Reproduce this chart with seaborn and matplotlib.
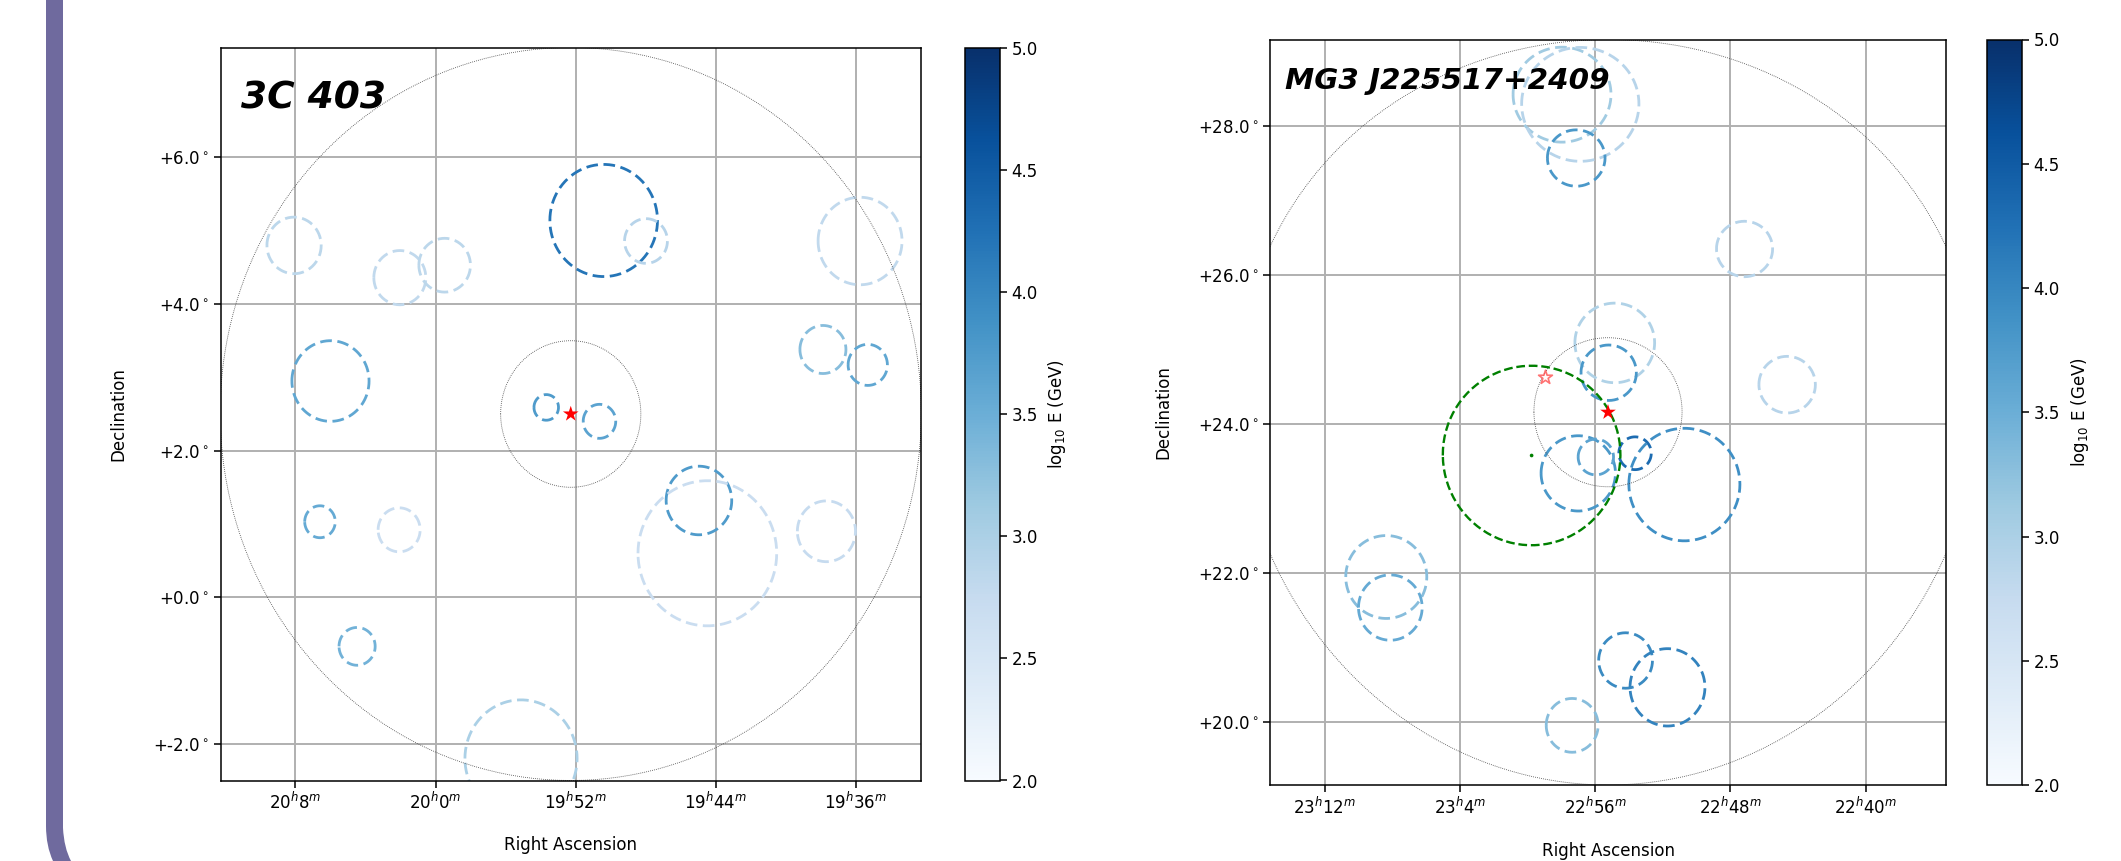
import numpy as np
import matplotlib
matplotlib.use("Agg")
import matplotlib.pyplot as plt
import seaborn as sns
from matplotlib.cm import ScalarMappable
from matplotlib.colors import Normalize
from matplotlib.path import Path
from matplotlib.patches import PathPatch

W, H = 2121, 861

# ---- left panel data: 3C 403
left_name = "3C 403"
left_center = (298.07, 2.5)
left_ra = [297.60, 296.996, 293.94, 302.02, 300.51, 299.87, 301.50, 294.47, 293.83, 298.42,
           297.66, 296.24, 296.12, 294.42, 301.65, 300.52, 301.12, 298.78]
left_dec = [5.14, 4.86, 4.86, 4.80, 4.36, 4.53, 2.95, 3.38, 3.17, 2.59,
            2.40, 1.32, 0.60, 0.90, 1.03, 0.92, -0.67, -2.20]
left_rad = [0.765, 0.305, 0.597, 0.386, 0.37, 0.367, 0.55, 0.328, 0.28, 0.175,
            0.232, 0.468, 0.99, 0.415, 0.218, 0.30, 0.258, 0.80]
left_logE = [4.2, 2.9, 2.8, 2.85, 2.8, 2.85, 3.6, 3.3, 3.6, 3.75,
             3.65, 3.75, 2.7, 2.75, 3.55, 2.7, 3.45, 3.0]
left_xticks = [302, 300, 298, 296, 294]
left_xlabels = [r"$20^{h}8^{m}$", r"$20^{h}0^{m}$", r"$19^{h}52^{m}$", r"$19^{h}44^{m}$", r"$19^{h}36^{m}$"]
left_yticks = [6, 4, 2, 0, -2]
left_ylabels = [r"+6.0$^\circ$", r"+4.0$^\circ$", r"+2.0$^\circ$", r"+0.0$^\circ$", r"+-2.0$^\circ$"]

# ---- right panel data: MG3 J225517+2409
right_name = "MG3 J225517+2409"
right_center = (343.81, 24.16)
right_ra = [344.49, 344.22, 344.28, 341.79, 343.71, 343.80, 341.16, 344.25, 343.99, 343.41,
            342.68, 347.09, 347.03, 343.55, 342.93, 344.34]
right_dec = [28.42, 28.29, 27.57, 26.35, 25.09, 24.69, 24.53, 23.34, 23.56, 23.61,
             23.19, 21.95, 21.54, 20.83, 20.47, 19.96]
right_rad = [0.637, 0.764, 0.378, 0.372, 0.534, 0.372, 0.38, 0.505, 0.24, 0.22,
             0.755, 0.556, 0.438, 0.372, 0.519, 0.361]
right_logE = [3.1, 2.9, 3.8, 2.9, 2.95, 3.8, 2.9, 3.8, 3.65, 4.3,
              3.9, 3.3, 3.55, 3.95, 4.05, 3.3]
right_xticks = [348, 346, 344, 342, 340]
right_xlabels = [r"$23^{h}12^{m}$", r"$23^{h}4^{m}$", r"$22^{h}56^{m}$", r"$22^{h}48^{m}$", r"$22^{h}40^{m}$"]
right_yticks = [28, 26, 24, 22, 20]
right_ylabels = [r"+28.0$^\circ$", r"+26.0$^\circ$", r"+24.0$^\circ$", r"+22.0$^\circ$", r"+20.0$^\circ$"]
green_ra, green_dec, green_rad = 344.94, 23.58, 1.204
open_star_ra, open_star_dec = 344.74, 24.63

cbar_ticks = [2.0, 2.5, 3.0, 3.5, 4.0, 4.5, 5.0]
FIELD_RADIUS = 5.0
INNER_RADIUS = 1.0
FS = 12

cmap = sns.color_palette("Blues", as_cmap=True)
norm = Normalize(2, 5)


def sky_circle(ax, ra, dec, rad, **kw):
    t = np.radians(np.arange(0, 361, 2))
    y = dec + rad * np.sin(t)
    x = ra + rad * np.cos(t) / np.cos(np.radians(y))
    sns.lineplot(x=x, y=y, sort=False, estimator=None, errorbar=None, ax=ax, legend=False, **kw)


def axes_px(x0, x1, y0, y1):
    return fig.add_axes([x0 / W, 1 - y1 / H, (x1 - x0) / W, (y1 - y0) / H])


def panel(box, cbox, center, ra, dec, rad, logE, xt, xl, yt, yl, name, name_pos, name_fs, xlab_y, ylab_x, cb_x):
    ax = axes_px(*box)
    for a, b, c, e in zip(ra, dec, rad, logE):
        sky_circle(ax, a, b, c, color=cmap(norm(e)), linestyle=(0, (4.2, 2.0)), linewidth=2.0)
    sky_circle(ax, center[0], center[1], FIELD_RADIUS, color="#444444", linestyle=(0, (1, 1.4)), linewidth=0.6)
    sky_circle(ax, center[0], center[1], INNER_RADIUS, color="#444444", linestyle=(0, (1, 1.4)), linewidth=0.6)
    sns.scatterplot(x=[center[0]], y=[center[1]], marker="*", s=140, color="red", edgecolor="none",
                    ax=ax, legend=False, zorder=5)
    ax.set_xlim(center[0] + 5, center[0] - 5)
    ax.set_ylim(center[1] - 5, center[1] + 5)
    ax.set_xticks(xt, xl)
    ax.set_yticks(yt, yl)
    ax.grid(True, color="#b0b0b0", linewidth=1.4)
    ax.tick_params(labelsize=FS, width=1.1, length=4.7)
    for s in ax.spines.values():
        s.set_linewidth(1.1)
    ax.set_xlabel("Right Ascension", fontsize=FS, va="center")
    ax.set_ylabel("Declination", fontsize=FS, va="center")
    ax.xaxis.set_label_coords(0.5, xlab_y)
    ax.yaxis.set_label_coords(ylab_x, 0.5)
    ax.text(name_pos[0], name_pos[1], name, transform=ax.transAxes, fontsize=name_fs,
            fontweight="bold", fontstyle="italic", va="baseline", ha="left")
    cax = axes_px(*cbox)
    cb = fig.colorbar(ScalarMappable(norm=norm, cmap=cmap), cax=cax, ticks=cbar_ticks)
    cb.ax.set_yticklabels([f"{v:.1f}" for v in cbar_ticks])
    cb.ax.tick_params(labelsize=FS, width=1.1, length=4.7)
    cb.outline.set_linewidth(1.1)
    cb.set_label(r"log$_{10}$ E (GeV)", fontsize=FS, va="center")
    cb.ax.yaxis.set_label_coords(cb_x, 0.5)
    return ax


fig = plt.figure(figsize=(W / 100, H / 100), dpi=100, facecolor="white")

# decorative slide border at the left edge
verts = [(46, 0), (63, 0), (63, 828), (64, 848), (71, 861), (53, 861), (46, 846), (46, 826), (46, 0)]
codes = [Path.MOVETO, Path.LINETO, Path.LINETO, Path.CURVE3, Path.CURVE3, Path.LINETO,
         Path.CURVE3, Path.CURVE3, Path.CLOSEPOLY]
fig.add_artist(PathPatch(Path([(x / W, 1 - y / H) for x, y in verts], codes),
                         transform=fig.transFigure, facecolor="#6f6a9e", edgecolor="none"))

ax_l = panel((220.5, 921, 47.5, 780.5), (964.5, 1000, 47.5, 780.5), left_center, left_ra, left_dec,
             left_rad, left_logE, left_xticks, left_xlabels, left_yticks, left_ylabels,
             left_name, (0.029, 0.917), 27, -0.0885, -0.1455, 2.61)
ax_r = panel((1270, 1946, 39.5, 785), (1987, 2022, 39.5, 785), right_center, right_ra, right_dec,
             right_rad, right_logE, right_xticks, right_xlabels, right_yticks, right_ylabels,
             right_name, (0.022, 0.934), 21.2, -0.0885, -0.158, 2.66)

sky_circle(ax_r, green_ra, green_dec, green_rad, color="green", linestyle="--", linewidth=1.7)
sns.scatterplot(x=[green_ra], y=[green_dec], marker="o", s=7, color="green", edgecolor="none",
                ax=ax_r, legend=False, zorder=4)
sns.scatterplot(x=[open_star_ra], y=[open_star_dec], marker="*", s=110, facecolor="white",
                edgecolor=(1, 0, 0, 0.55), linewidth=1.2, ax=ax_r, legend=False, zorder=5)
ax_r.set_xlim(right_center[0] + 5, right_center[0] - 5)
ax_r.set_ylim(right_center[1] - 5, right_center[1] + 5)

fig.savefig("out.png", dpi=100)
